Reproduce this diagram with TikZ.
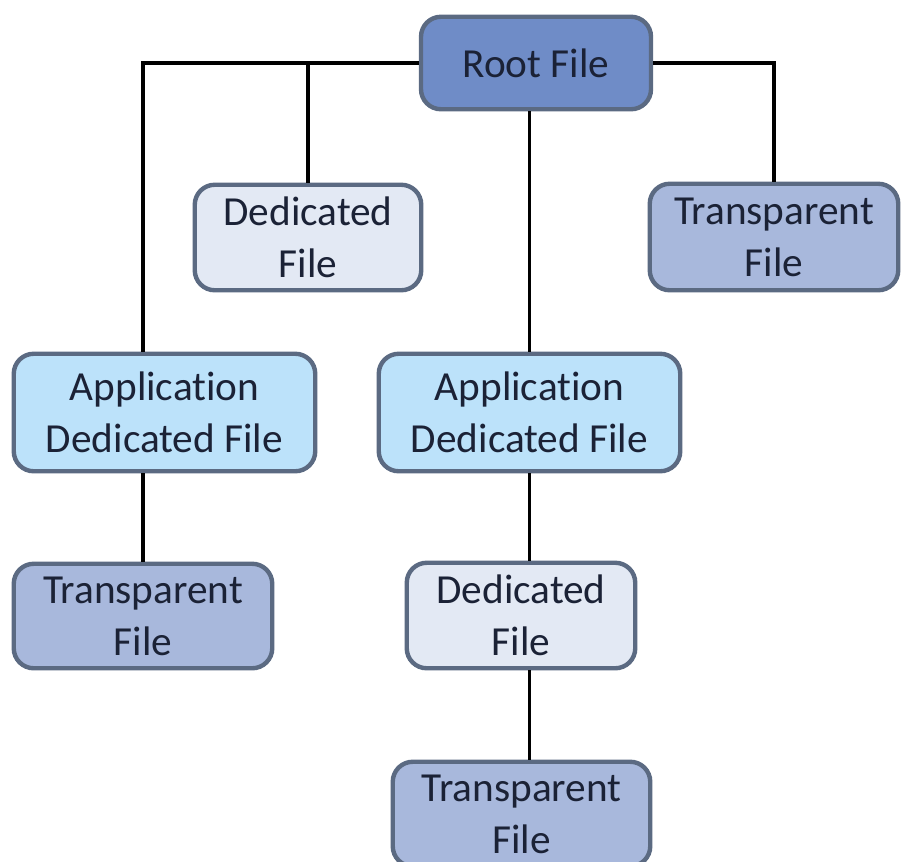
\documentclass[tikz,border=0pt]{standalone}
\usepackage{fontspec}
\setmainfont{Carlito}[Ligatures=NoCommon]
\usepackage{tikz}

\definecolor{rootblue}{HTML}{6F8CC7}
\definecolor{dedblue}{HTML}{E3E9F4}
\definecolor{transblue}{HTML}{A8B8DC}
\definecolor{appblue}{HTML}{BCE2FA}
\definecolor{rim}{HTML}{5B6A82}
\definecolor{ink}{HTML}{1B2236}

\begin{document}
\begin{tikzpicture}
	\tikzset{file/.style = {shape=rectangle, rounded corners=0.4cm, draw=rim, line width=2.5pt, align=center, text=ink, font=\fontsize{23.5}{29.6}\selectfont}}
	\tikzset{link/.style = {draw=black, line width=2.1pt}}
	\useasboundingbox (0,0) rectangle (18.02,-17.22);
	\node[file, fill=rootblue, minimum width=4.6cm, minimum height=1.85cm] (root) at (10.72, -1.26) {Root File};
	\node[file, fill=dedblue, minimum width=4.53cm, minimum height=2.11cm] (deda) at (6.16, -4.75) {Dedicated\\File};
	\node[file, fill=transblue, minimum width=4.97cm, minimum height=2.13cm] (transa) at (15.48, -4.74) {Transparent\\File};
	\node[file, fill=appblue, minimum width=6.03cm, minimum height=2.35cm] (appa) at (3.29, -8.25) {Application\\Dedicated File};
	\node[file, fill=appblue, minimum width=6.03cm, minimum height=2.35cm] (appb) at (10.59, -8.25) {Application\\Dedicated File};
	\node[file, fill=transblue, minimum width=5.17cm, minimum height=2.09cm] (transb) at (2.86, -12.32) {Transparent\\File};
	\node[file, fill=dedblue, minimum width=4.57cm, minimum height=2.11cm] (dedb) at (10.42, -12.31) {Dedicated\\File};
	\node[file, fill=transblue, minimum width=5.15cm, minimum height=2.09cm] (transc) at (10.43, -16.28) {Transparent\\File};
	\draw[link] (root.west) -| (transb.north |- appa.north);
	\draw[link] (deda.north) |- (root.west);
	\draw[link] (root.east) -| (transa.north);
	\draw[link] (root.south -| appb.north) -- (appb.north);
	\draw[link] (transb.north |- appa.south) -- (transb.north);
	\draw[link] (appb.south) -- (appb.south |- dedb.north);
	\draw[link] (appb.south |- dedb.south) -- (appb.south |- transc.north);
\end{tikzpicture}
\end{document}
